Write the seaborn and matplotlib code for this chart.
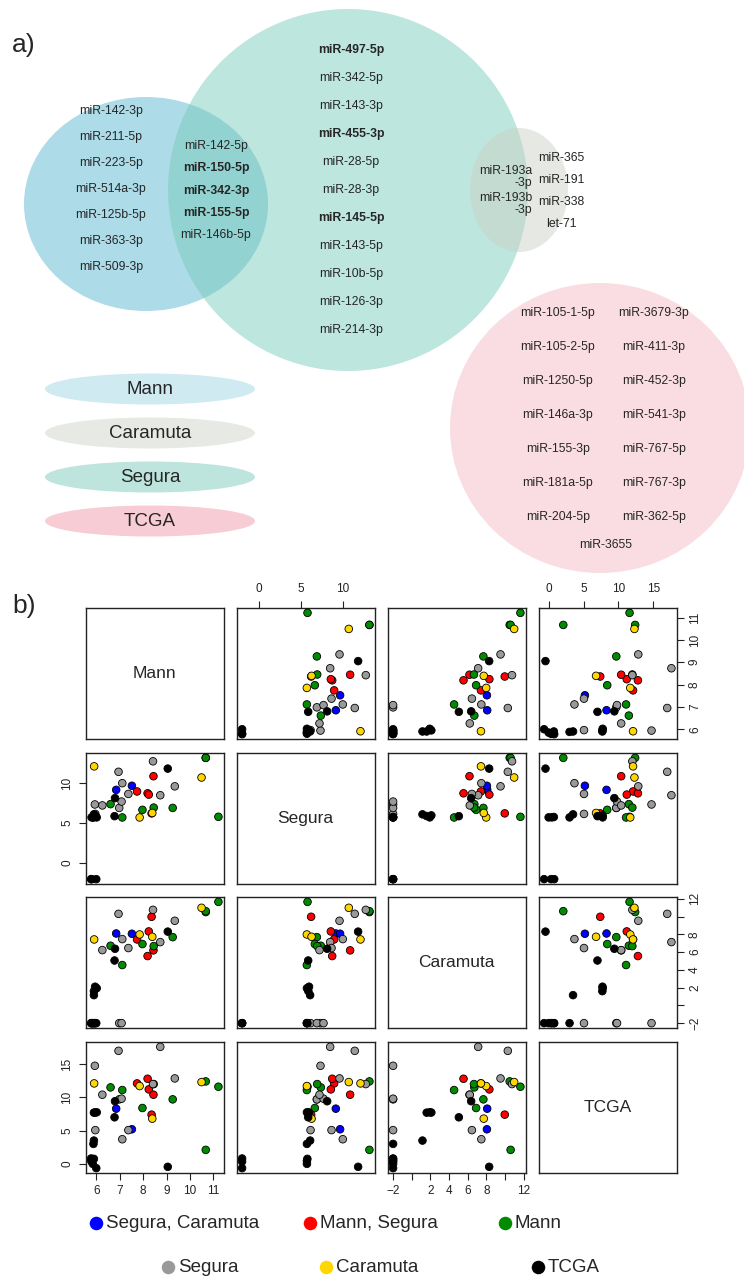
import matplotlib
matplotlib.use("Agg")
import numpy as np
import pandas as pd
import matplotlib.pyplot as plt
import seaborn as sns
from matplotlib.patches import Ellipse

# ---------------- data (part b) ----------------
group = (["Segura, Caramuta"] * 2 + ["Mann, Segura"] * 5 + ["Mann"] * 8 +
         ["Segura"] * 11 + ["Caramuta"] * 4 + ["TCGA"] * 14)
mann = [6.85, 7.52,
        7.74, 8.19, 8.24, 8.44, 8.36,
        11.21, 10.67, 10.67, 9.26, 7.97, 6.61, 8.45, 7.11,
        5.94, 5.96, 6.98, 7.08, 6.95, 8.42, 9.35, 7.11, 8.73, 6.26, 7.37,
        10.49, 7.85, 8.39, 5.91,
        6.80, 6.78, 9.05, 5.90, 6.02, 5.95, 5.90, 5.88, 6.00, 5.80, 5.78, 5.85, 5.90, 5.80]
segura = [9.13, 9.64,
          8.93, 8.70, 8.54, 10.83, 6.20,
          5.77, 13.12, 13.12, 6.88, 6.64, 7.35, 6.92, 5.69,
          7.31, 6.13, 6.88, 7.67, 11.38, 12.69, 9.57, 9.96, 8.46, 7.19, 8.62,
          10.67, 5.69, 6.25, 12.06,
          8.10, 5.85, 11.78, 5.87, 5.70, 5.95, 6.08, 5.70, -2.0, -2.0, -2.0, 5.70, 5.75, 5.70]
caramuta = [8.09, 8.06,
            7.42, 5.55, 8.32, 6.19, 9.97,
            11.65, 10.50, 10.60, 7.68, 6.90, 6.71, 6.67, 4.54,
            -2.0, -2.0, -2.0, -2.0, 10.30, 10.75, 9.52, 7.46, 7.12, 6.22, 6.45,
            10.98, 7.98, 7.72, 7.42,
            6.37, 5.05, 8.30, 1.60, 1.93, 2.10, 1.15, -2.0, -2.0, -2.0, -2.0, -2.0, -2.0, -2.0]
tcga = [8.30, 5.20,
        12.10, 12.80, 11.20, 10.40, 7.40,
        11.60, 12.40, 2.10, 9.70, 8.40, 11.50, 12.00, 11.10,
        14.75, 5.07, 9.70, 9.80, 17.00, 12.00, 12.85, 3.70, 17.60, 10.40, 5.07,
        12.30, 11.70, 6.80, 12.10,
        9.42, 7.00, -0.45, 7.70, 7.75, 7.72, 3.50, 3.00, -0.65, 0.35, 0.80, 0.00, 0.75, 0.45]

legend_order = ["Segura, Caramuta", "Mann, Segura", "Mann", "Segura", "Caramuta", "TCGA"]
legend_colors = ["#0000FF", "#FF0000", "#008B00", "#999999", "#FFD700", "#000000"]

variables = ["Mann", "Segura", "Caramuta", "TCGA"]
ticks = {
    "Mann": [6, 7, 8, 9, 10, 11],
    "Segura": [0, 5, 10],
    "Caramuta": [-2, 0, 2, 4, 6, 8, 10, 12],
    "TCGA": [0, 5, 10, 15],
}
tick_labels = {
    "Mann": ["6", "7", "8", "9", "10", "11"],
    "Segura": ["0", "5", "10"],
    "Caramuta": ["\u22122", "", "2", "4", "6", "8", "", "12"],
    "TCGA": ["0", "5", "10", "15"],
}

# ---------------- data (part a) ----------------
mann_only = ["miR-142-3p", "miR-211-5p", "miR-223-5p", "miR-514a-3p",
             "miR-125b-5p", "miR-363-3p", "miR-509-3p"]
mann_segura = ["miR-142-5p", "miR-150-5p", "miR-342-3p", "miR-155-5p", "miR-146b-5p"]
mann_segura_bold = [False, True, True, True, False]
segura_only = ["miR-497-5p", "miR-342-5p", "miR-143-3p", "miR-455-3p", "miR-28-5p",
               "miR-28-3p", "miR-145-5p", "miR-143-5p", "miR-10b-5p", "miR-126-3p",
               "miR-214-3p"]
segura_bold = [True, False, False, True, False, False, True, False, False, False, False]
segura_caramuta = ["miR-193a\n-3p", "miR-193b\n-3p"]
caramuta_only = ["miR-365", "miR-191", "miR-338", "let-71"]
tcga_left = ["miR-105-1-5p", "miR-105-2-5p", "miR-1250-5p", "miR-146a-3p",
             "miR-155-3p", "miR-181a-5p", "miR-204-5p"]
tcga_right = ["miR-3679-3p", "miR-411-3p", "miR-452-3p", "miR-541-3p",
              "miR-767-5p", "miR-767-3p", "miR-362-5p"]
tcga_last = "miR-3655"
venn_names = ["Mann", "Caramuta", "Segura", "TCGA"]
venn_colors = ["#d0eaf1", "#e7e9e5", "#bde5dd", "#f8ccd5"]

df = pd.DataFrame({"group": group, "Mann": mann, "Segura": segura,
                   "Caramuta": caramuta, "TCGA": tcga})

sns.set_style("white")
plt.rcParams["font.family"] = ["Liberation Sans", "DejaVu Sans"]

W, H = 744, 1279
fig = plt.figure(figsize=(W / 100, H / 100), dpi=100)

bg = fig.add_axes([0, 0, 1, 1], zorder=0)
bg.set_xlim(0, W)
bg.set_ylim(H, 0)
bg.axis("off")

# ---- part a: Venn-like ellipses ----
bg.add_patch(Ellipse((146, 204), 244, 214, facecolor="#5fb8d3", alpha=0.5, lw=0))
bg.add_patch(Ellipse((348, 190), 360, 362, facecolor="#74cbbb", alpha=0.48, lw=0))
bg.add_patch(Ellipse((519, 190), 98, 124, facecolor="#cdd2c8", alpha=0.5, lw=0))
bg.add_patch(Ellipse((600, 428), 300, 290, facecolor="#fadde2", lw=0))

bg.text(12, 45, "a)", fontsize=19, va="center", ha="left")
bg.text(12, 606, "b)", fontsize=19, va="center", ha="left")

fs = 8.8
for k, s in enumerate(mann_only):
    bg.text(111, 111 + k * 26, s, fontsize=fs, ha="center", va="center")
for k, s in enumerate(mann_segura):
    bg.text(216, 146 + k * 22.3, s, fontsize=fs, ha="center", va="center",
            fontweight="bold" if mann_segura_bold[k] else "normal")
for k, s in enumerate(segura_only):
    bg.text(351, 50 + k * 28, s, fontsize=fs, ha="center", va="center",
            fontweight="bold" if segura_bold[k] else "normal")
for k, s in enumerate(segura_caramuta):
    bg.text(532, 177 + k * 27, s, fontsize=fs, ha="right", va="center",
            multialignment="right", linespacing=1.0)
for k, s in enumerate(caramuta_only):
    bg.text(561, 158 + k * 22, s, fontsize=fs, ha="center", va="center")
for k, s in enumerate(tcga_left):
    bg.text(558, 313 + k * 34, s, fontsize=fs, ha="center", va="center")
for k, s in enumerate(tcga_right):
    bg.text(654, 313 + k * 34, s, fontsize=fs, ha="center", va="center")
bg.text(606, 545, tcga_last, fontsize=fs, ha="center", va="center")

for k, (nm, col) in enumerate(zip(venn_names, venn_colors)):
    cy = 389 + k * 44
    bg.add_patch(Ellipse((150, cy), 210, 31, facecolor=col, lw=0))
    bg.text(150, cy, nm, fontsize=13.5, ha="center", va="center")

# ---- part b: pairs plot ----
col_left = [86, 237, 388, 539]
row_top = [608, 753, 897, 1042]
pw, ph = 137.5, 131

lims = {}
for v in variables:
    lo, hi = df[v].min(), df[v].max()
    r = hi - lo
    lims[v] = (lo - 0.04 * r, hi + 0.04 * r)

pal = dict(zip(legend_order, legend_colors))

for i, vy in enumerate(variables):
    for j, vx in enumerate(variables):
        rect = [col_left[j] / W, 1 - (row_top[i] + ph) / H, pw / W, ph / H]
        ax = fig.add_axes(rect, zorder=2)
        if i == j:
            ax.text(0.5, 0.5, vy, transform=ax.transAxes, ha="center",
                    va="center", fontsize=12.5)
        else:
            sns.scatterplot(data=df, x=vx, y=vy, hue="group", palette=pal,
                            hue_order=legend_order, s=30, edgecolor="black",
                            linewidth=0.6, legend=False, ax=ax, zorder=3)
        ax.set_xlim(*lims[vx])
        ax.set_ylim(*lims[vy])
        ax.set_xlabel("")
        ax.set_ylabel("")
        for sp in ax.spines.values():
            sp.set_visible(True)
            sp.set_color("#222222")
            sp.set_linewidth(1.0)
        ax.set_facecolor("white")
        ax.tick_params(direction="out", length=5, width=0.8, pad=4,
                       labelsize=8.5, colors="#222222")
        if i == 3 and j % 2 == 0:
            ax.set_xticks(ticks[vx])
            ax.set_xticklabels(tick_labels[vx])
            ax.tick_params(axis="x", bottom=True, top=False,
                           labelbottom=True, labeltop=False)
        elif i == 0 and j % 2 == 1:
            ax.set_xticks(ticks[vx])
            ax.set_xticklabels(tick_labels[vx])
            ax.xaxis.tick_top()
            ax.tick_params(axis="x", bottom=False, top=True,
                           labelbottom=False, labeltop=True)
        else:
            ax.set_xticks([])
        if j == 0 and i % 2 == 1:
            ax.set_yticks(ticks[vy])
            ax.set_yticklabels(tick_labels[vy], rotation=90, va="center")
            ax.tick_params(axis="y", left=True, right=False,
                           labelleft=True, labelright=False)
        elif j == 3 and i % 2 == 0:
            ax.set_yticks(ticks[vy])
            ax.yaxis.tick_right()
            ax.set_yticklabels(tick_labels[vy], rotation=90, va="center")
            ax.tick_params(axis="y", left=False, right=True,
                           labelleft=False, labelright=True)
        else:
            ax.set_yticks([])

# ---- legend at bottom ----
leg_pos = [(96, 1223), (310, 1223), (505, 1223),
           (168, 1267), (326, 1267), (538, 1267)]
for (lx, ly), nm, col in zip(leg_pos, legend_order, legend_colors):
    bg.scatter([lx], [ly], s=95, color=col, lw=0)
    bg.text(lx + 10, ly, nm, fontsize=13.5, ha="left", va="center")

fig.savefig("out.png", dpi=100)
